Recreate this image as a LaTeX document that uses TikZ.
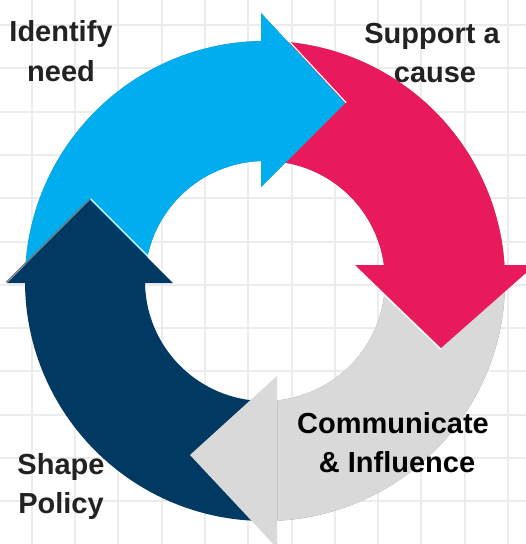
\documentclass[tikz,border=0pt]{standalone}
\usepackage{fontspec}
\setmainfont{Liberation Sans}
\definecolor{cblue}{HTML}{00AEEF}
\definecolor{cpink}{HTML}{E91A5C}
\definecolor{cnavy}{HTML}{003A63}
\definecolor{cgray}{HTML}{D9D9D9}
\definecolor{gridc}{HTML}{ECECEC}
\definecolor{txt}{HTML}{222222}
\definecolor{shadowc}{HTML}{7A7A7A}
\tikzset{
  gridline/.style={gridc, line width=2pt},
  shade off/.style={shift={(1.3,1.3)}},
  hilite/.style={white, line width=1.1pt, line cap=round},
  lbl/.style={font=\bfseries\fontsize{29}{40}\selectfont, text=txt, inner sep=0pt, anchor=base},
}
\newcommand\ringpiece[2]{%
  \begin{scope}\clip #1;
    \fill[#2, even odd rule] (C) circle[radius=240] (C) circle[radius=120];
  \end{scope}}
\begin{document}
\begin{tikzpicture}[x=1pt,y=-1pt]
\useasboundingbox (0,0) rectangle (526,544);
\clip (0,0) rectangle (526,544);
\fill[white] (0,0) rectangle (526,544);
% grid
\foreach \i in {-1,...,11} \draw[gridline] (31.7+43.3*\i,0) -- (31.7+43.3*\i,544);
\foreach \i in {-1,...,12} \draw[gridline] (0,25+43.3*\i) -- (526,25+43.3*\i);
\coordinate (C) at (265,281);
% head corners
\coordinate (b1) at (261,13);  \coordinate (bt) at (345,103); \coordinate (b2) at (261,187);
\coordinate (p1) at (535,265); \coordinate (pt) at (441,348); \coordinate (p2) at (355,265);
\coordinate (g1) at (277,548); \coordinate (gt) at (190,455); \coordinate (g2) at (277,376);
\coordinate (n1) at (7,283);   \coordinate (nt) at (90,200);  \coordinate (n2) at (173,283);
% body shadows
\begin{scope}[shade off]
  \ringpiece{(-20,-20) rectangle (261,283)}{shadowc}
  \ringpiece{(261,-20) rectangle (560,265)}{shadowc}
  \ringpiece{(277,265) rectangle (560,580)}{shadowc}
\end{scope}
% bodies
\ringpiece{(-20,-20) rectangle (261,283)}{cblue}
\ringpiece{(261,-20) rectangle (560,265)}{cpink}
\ringpiece{(277,265) rectangle (560,580)}{cgray}
\ringpiece{(-20,283) rectangle (277,580)}{cnavy}
% heads
\fill[shadowc, shade off] (b1) -- (bt) -- (b2) -- cycle;
\fill[cblue] (b1) -- (bt) -- (b2) -- cycle;
\draw[hilite] ([shift={(0.9,-0.9)}]b1) -- ([shift={(0.9,-0.6)}]bt);
\fill[cpink] (p1) -- (pt) -- (p2) -- cycle;
\draw[hilite] ([shift={(-0.9,0.9)}]p2) -- ([shift={(-0.6,0.9)}]pt);
\fill[cgray] (g1) -- (gt) -- (g2) -- cycle;
\draw[shadowc, line width=1.4pt] ([shift={(-0.7,-0.7)}]n1) -- ([shift={(0,-1)}]nt);
\fill[cnavy] (n1) -- (nt) -- (n2) -- cycle;
\draw[hilite] ([shift={(0.9,-0.9)}]nt) -- ([shift={(0.9,-0.9)}]n2);
% labels
\node[lbl] (l1a) at (61,41.5) {Identify};
\node[lbl] (l1b) at (61,81) {need};
\node[lbl] (l2a) at (432,43) {Support a};
\node[lbl] (l2b) at (435,82) {cause};
\node[lbl, text=black] (l3a) at (393,433) {Communicate};
\node[lbl, text=black] (l3b) at (397,472) {\& Influence};
\node[lbl] (l4a) at (61,474) {Shape};
\node[lbl] (l4b) at (61,513.5) {Policy};
\end{tikzpicture}
\end{document}
